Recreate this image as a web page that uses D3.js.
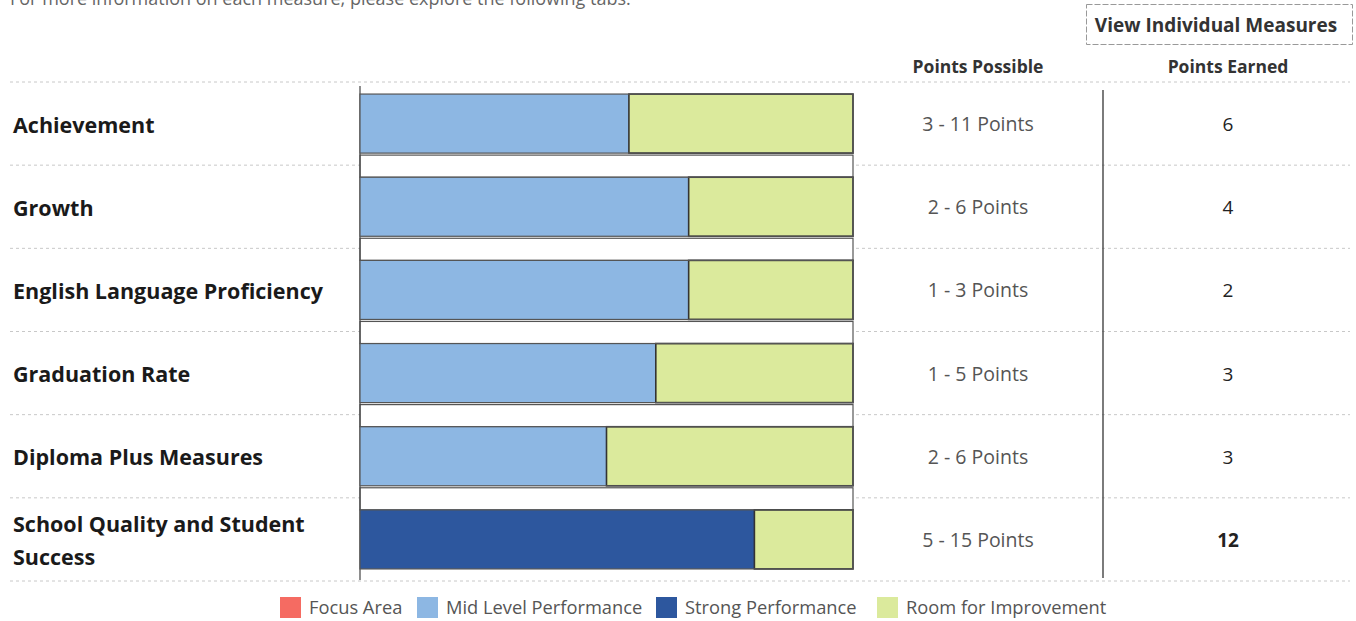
<!DOCTYPE html>
<html><head><meta charset="utf-8">
<script src="https://cdn.jsdelivr.net/npm/d3@7"></script>
<style>
html,body{margin:0;padding:0;background:#fff;}
svg{display:block;font-family:"Open Sans","Noto Sans",sans-serif;}
</style></head>
<body><svg id="c" width="1356" height="621"></svg>
<script>
const categories = ["Achievement","Growth","English Language Proficiency","Graduation Rate","Diploma Plus Measures","School Quality and Student Success"];
const pointsMin = [3,2,1,1,2,5];
const pointsMax = [11,6,3,5,6,15];
const pointsEarned = [6,4,2,3,3,12];
const levels = ["mid","mid","mid","mid","mid","strong"];
const legendLabels = ["Focus Area","Mid Level Performance","Strong Performance","Room for Improvement"];
const legendKeys = ["focus","mid","strong","room"];

const colors = {focus:"#f56b62", mid:"#8db7e3", strong:"#2d579e", room:"#dbea9c"};

const svg = d3.select("#c");

// top intro text (cut off at the top edge, as in the reference)
svg.append("text").attr("x",10).attr("y",5).attr("font-size",18).attr("fill","#666")
  .text("For more information on each measure, please explore the following tabs.");

// button
svg.append("rect").attr("x",1086.5).attr("y",4.5).attr("width",266).attr("height",40)
  .attr("fill","#fff").attr("stroke","#999").attr("stroke-dasharray","6,2");
svg.append("text").attr("x",1216).attr("y",32).attr("text-anchor","middle")
  .attr("font-size",19).attr("font-weight","bold").attr("fill","#333").text("View Individual Measures");

// headers
svg.append("text").attr("x",978).attr("y",73).attr("text-anchor","middle")
  .attr("font-size",17.5).attr("font-weight","bold").attr("fill","#333").text("Points Possible");
svg.append("text").attr("x",1228).attr("y",73).attr("text-anchor","middle")
  .attr("font-size",17.5).attr("font-weight","bold").attr("fill","#333").text("Points Earned");

const y = d3.scaleBand().domain(categories).range([82,581]).paddingInner(0.29).paddingOuter(0.145);
const x = d3.scaleLinear().domain([0,1]).range([360,853]);

// gridlines at row boundaries
const step = y.step();
const bounds = d3.range(categories.length+1).map(i => 82 + i*step);
svg.append("g").selectAll("line").data(bounds).join("line")
  .attr("x1",10).attr("x2",1350).attr("y1",d=>d).attr("y2",d=>d)
  .attr("stroke","#c8c8c8").attr("stroke-width",1).attr("stroke-dasharray","3,3");

// separator boxes between bars
const sepData = categories.slice(0,-1).map((c,i)=>({top:y(c)+y.bandwidth()+2, bottom:y(categories[i+1])}));
svg.append("g").selectAll("rect").data(sepData).join("rect")
  .attr("x",x(0)).attr("width",x(1)-x(0)).attr("y",d=>d.top).attr("height",d=>d.bottom-d.top)
  .attr("fill","#fff").attr("stroke","#555").attr("stroke-width",1.2);

// left column line
svg.append("line").attr("x1",360).attr("x2",360).attr("y1",86).attr("y2",580).attr("stroke","#444").attr("stroke-width",1.2);

const rows = categories.map((c,i)=>({cat:c, earned:pointsEarned[i], max:pointsMax[i], min:pointsMin[i], level:levels[i]}));

const g = svg.append("g");
g.selectAll("rect.earned").data(rows).join("rect").attr("class","earned")
  .attr("x",x(0)).attr("y",d=>y(d.cat)).attr("height",y.bandwidth())
  .attr("width",d=>x(d.earned/d.max)-x(0)).attr("fill",d=>colors[d.level]);
g.selectAll("rect.room").data(rows).join("rect").attr("class","room")
  .attr("x",d=>x(d.earned/d.max)).attr("y",d=>y(d.cat)).attr("height",y.bandwidth())
  .attr("width",d=>x(1)-x(d.earned/d.max)).attr("fill",colors.room)
  .attr("stroke","#333").attr("stroke-width",1.6);
g.selectAll("rect.outline").data(rows).join("rect").attr("class","outline")
  .attr("x",x(0)).attr("y",d=>y(d.cat)).attr("height",y.bandwidth())
  .attr("width",x(1)-x(0)).attr("fill","none").attr("stroke","#555").attr("stroke-width",1.2);

// category labels
const lbl = svg.append("g").selectAll("text").data(rows).join("text")
  .attr("x",13).attr("font-size",21.5).attr("font-weight","bold").attr("fill","#1a1a1a");
lbl.each(function(d){
  const t = d3.select(this);
  const cy = y(d.cat)+y.bandwidth()/2;
  if (d.cat === "School Quality and Student Success") {
    t.append("tspan").attr("x",13).attr("y",cy-7).text("School Quality and Student");
    t.append("tspan").attr("x",13).attr("y",cy+26).text("Success");
  } else {
    t.attr("y",cy+9).text(d.cat);
  }
});

// points possible
svg.append("g").selectAll("text").data(rows).join("text")
  .attr("x",978).attr("y",d=>y(d.cat)+y.bandwidth()/2+7.5).attr("text-anchor","middle")
  .attr("font-size",19.5).attr("fill","#555").text(d=>`${d.min} - ${d.max} Points`);

// divider
svg.append("line").attr("x1",1103).attr("x2",1103).attr("y1",90).attr("y2",578).attr("stroke","#444").attr("stroke-width",1.4);

// points earned
svg.append("g").selectAll("text").data(rows).join("text")
  .attr("x",1228).attr("y",d=>y(d.cat)+y.bandwidth()/2+7.5).attr("text-anchor","middle")
  .attr("font-size",19).attr("fill","#222").attr("font-weight",d=>d.level==="strong"?"bold":"normal")
  .text(d=>d.earned);

// legend
const legX = [280,417,656,877];
const leg = svg.append("g").selectAll("g").data(legendLabels).join("g")
  .attr("transform",(d,i)=>`translate(${legX[i]},597)`);
leg.append("rect").attr("width",21).attr("height",21).attr("fill",(d,i)=>colors[legendKeys[i]]);
leg.append("text").attr("x",29).attr("y",16.5).attr("font-size",18.3).attr("fill","#555").text(d=>d);
</script></body></html>
